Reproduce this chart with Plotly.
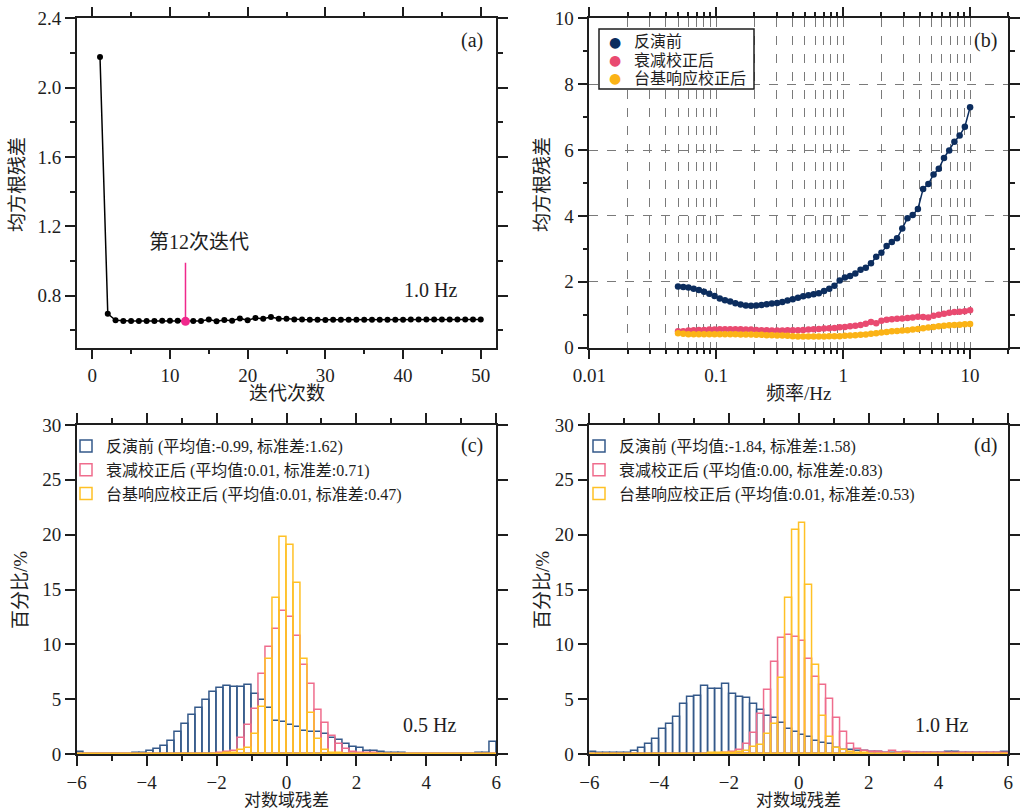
import plotly.graph_objects as go

# ---------------- data ----------------
# (a) RMS residual vs iteration (1.0 Hz)
ITERATIONS = list(range(1, 51))
RMS_ITER = [2.177, 0.696, 0.658, 0.654, 0.654, 0.654, 0.654, 0.654, 0.655, 0.655,
            0.655, 0.652, 0.654, 0.654, 0.662, 0.652, 0.660, 0.656, 0.669, 0.658,
            0.671, 0.667, 0.677, 0.667, 0.667, 0.663, 0.662, 0.661, 0.661, 0.660,
            0.661, 0.661, 0.661, 0.661, 0.661, 0.661, 0.661, 0.661, 0.661, 0.661,
            0.663, 0.663, 0.663, 0.663, 0.663, 0.663, 0.663, 0.663, 0.663, 0.663]
SELECTED_ITER = 12
SELECTED_MARK_TOP = 0.99

# (b) RMS residual vs frequency
FREQ = [0.0500, 0.0550, 0.0604, 0.0664, 0.0730, 0.0802, 0.0882, 0.0970, 0.1066, 0.1172,
        0.1288, 0.1416, 0.1556, 0.1711, 0.1880, 0.2067, 0.2272, 0.2497, 0.2745, 0.3017,
        0.3317, 0.3646, 0.4008, 0.4405, 0.4842, 0.5323, 0.5851, 0.6431, 0.7069, 0.7771,
        0.8542, 0.9389, 1.032, 1.134, 1.247, 1.371, 1.507, 1.656, 1.821, 2.001,
        2.200, 2.418, 2.658, 2.922, 3.212, 3.531, 3.881, 4.266, 4.690, 5.155,
        5.666, 6.229, 6.847, 7.526, 8.273, 9.094, 10.0]
RMS_BEFORE = [1.86, 1.84, 1.83, 1.79, 1.75, 1.70, 1.64, 1.57, 1.49, 1.44,
              1.40, 1.35, 1.31, 1.28, 1.27, 1.28, 1.30, 1.32, 1.34, 1.36,
              1.39, 1.43, 1.47, 1.52, 1.56, 1.59, 1.62, 1.65, 1.72, 1.79,
              1.88, 2.04, 2.13, 2.18, 2.25, 2.37, 2.43, 2.56, 2.76, 2.88,
              3.09, 3.21, 3.32, 3.62, 3.93, 4.03, 4.21, 4.82, 4.97, 5.26,
              5.43, 5.76, 5.99, 6.25, 6.44, 6.71, 7.30]
RMS_ATTEN = [0.50, 0.50, 0.52, 0.53, 0.54, 0.54, 0.55, 0.55, 0.56, 0.56,
             0.56, 0.56, 0.56, 0.55, 0.55, 0.54, 0.53, 0.53, 0.52, 0.52,
             0.52, 0.53, 0.53, 0.53, 0.54, 0.55, 0.56, 0.57, 0.58, 0.59,
             0.60, 0.62, 0.63, 0.65, 0.67, 0.69, 0.73, 0.78, 0.74, 0.82,
             0.85, 0.86, 0.88, 0.89, 0.90, 0.92, 0.94, 0.93, 0.92, 0.97,
             1.00, 1.03, 1.06, 1.08, 1.09, 1.11, 1.14]
RMS_SITE = [0.44, 0.42, 0.41, 0.41, 0.41, 0.41, 0.41, 0.41, 0.41, 0.41,
            0.41, 0.41, 0.40, 0.40, 0.40, 0.39, 0.39, 0.38, 0.38, 0.37,
            0.37, 0.36, 0.35, 0.34, 0.34, 0.34, 0.34, 0.34, 0.34, 0.35,
            0.35, 0.35, 0.36, 0.37, 0.38, 0.39, 0.40, 0.42, 0.44, 0.46,
            0.48, 0.50, 0.51, 0.52, 0.53, 0.55, 0.57, 0.59, 0.61, 0.63,
            0.65, 0.67, 0.68, 0.69, 0.70, 0.71, 0.72]

# (c)/(d) histograms: 60 bins of width 0.2 from -6 to 6 (percent)
BIN_START = -6.0
BIN_WIDTH = 0.2
N_BINS = 60

HIST_C_BEFORE = [0.15, 0, 0, 0, 0, 0, 0.02, 0.03, 0.06, 0.12,
                 0.24, 0.49, 0.76, 1.22, 2.04, 2.74, 3.53, 4.19, 4.89, 5.65,
                 6.05, 6.20, 6.14, 6.14, 6.26, 5.50, 4.95, 4.19, 2.98, 2.92,
                 2.67, 2.49, 2.07, 1.98, 2.02, 1.79, 1.43, 1.25, 0.94, 0.64,
                 0.58, 0.30, 0.27, 0.18, 0.12, 0.09, 0.05, 0.04, 0.03, 0.02,
                 0.02, 0.01, 0.01, 0.01, 0.01, 0.02, 0.02, 0.08, 0.10, 1.06]
HIST_C_ATTEN = [0, 0, 0, 0, 0, 0, 0, 0.03, 0.02, 0.01,
                0.01, 0.01, 0.01, 0.01, 0.01, 0.02, 0.02, 0.02, 0.02, 0.03,
                0.10, 0.15, 0.30, 1.49, 2.67, 4.13, 7.33, 9.79, 11.40, 13.00,
                12.45, 10.76, 8.10, 6.38, 4.00, 2.80, 1.65, 0.90, 0.45, 0.20,
                0.12, 0.08, 0.05, 0.02, 0.02, 0.02, 0.02, 0.02, 0.02, 0.02,
                0.02, 0.03, 0.02, 0.02, 0.02, 0.02, 0.02, 0.02, 0.02, 0.02]
HIST_C_SITE = [0, 0, 0, 0, 0, 0, 0, 0, 0, 0,
               0, 0, 0, 0, 0, 0, 0, 0, 0, 0,
               0.02, 0.05, 0.10, 0.33, 0.58, 1.78, 4.25, 8.65, 14.25, 19.80,
               19.10, 15.60, 8.63, 3.70, 1.40, 0.33, 0.10, 0.05, 0.02, 0,
               0, 0, 0, 0, 0, 0, 0, 0, 0, 0,
               0, 0, 0, 0, 0, 0, 0, 0, 0, 0]

HIST_D_BEFORE = [0.20, 0.05, 0.05, 0.05, 0.10, 0.12, 0.27, 0.52, 0.94, 1.40,
                 2.25, 2.70, 3.34, 4.59, 5.23, 5.29, 6.23, 5.93, 5.90, 6.35,
                 5.44, 5.20, 5.10, 4.56, 4.00, 3.47, 3.31, 2.80, 2.25, 2.04,
                 1.70, 1.58, 1.19, 1.03, 0.88, 0.52, 0.40, 0.33, 0.27, 0.24,
                 0.20, 0.15, 0.12, 0.10, 0.10, 0.10, 0.10, 0.08, 0.08, 0.10,
                 0.10, 0.20, 0.15, 0.12, 0.10, 0.08, 0.10, 0.08, 0.10, 0.15]
HIST_D_ATTEN = [0, 0, 0, 0, 0, 0, 0, 0, 0, 0,
                0.03, 0.03, 0.03, 0.03, 0.03, 0.03, 0.03, 0.03, 0.03, 0.12,
                0.15, 0.36, 0.88, 1.91, 3.68, 5.84, 8.36, 10.58, 10.82, 10.70,
                10.33, 8.63, 7.05, 6.32, 5.05, 3.25, 2.04, 0.88, 0.46, 0.30,
                0.18, 0.15, 0.10, 0.30, 0.10, 0.15, 0.10, 0.10, 0.10, 0.10,
                0.05, 0.05, 0.05, 0.05, 0.05, 0.05, 0.05, 0.05, 0.05, 0.05]
HIST_D_SITE = [0, 0, 0, 0, 0, 0, 0, 0, 0, 0,
               0, 0, 0, 0, 0, 0, 0.03, 0.05, 0.05, 0.08,
               0.10, 0.15, 0.30, 0.60, 0.85, 1.82, 2.77, 6.90, 14.20, 20.40,
               21.03, 15.38, 8.08, 3.50, 1.55, 0.52, 0.36, 0.20, 0.10, 0.05,
               0, 0, 0, 0, 0, 0, 0, 0, 0, 0,
               0, 0, 0, 0, 0, 0, 0, 0, 0, 0]

SERIES_NAMES = ["反演前", "衰减校正后", "台基响应校正后"]
STATS_C = ["(平均值:-0.99, 标准差:1.62)", "(平均值:0.01, 标准差:0.71)", "(平均值:0.01, 标准差:0.47)"]
STATS_D = ["(平均值:-1.84, 标准差:1.58)", "(平均值:0.00, 标准差:0.83)", "(平均值:0.01, 标准差:0.53)"]

# ---------------- style ----------------
FONT = "'Liberation Serif', 'Noto Sans CJK SC', serif"
INK = "#1e1e1e"
NAVY = "#0c2d5e"
PINK = "#e94a70"
GOLD = "#fbb316"
H_BLUE = "#34598a"
H_PINK = "#ef6d8d"
H_GOLD = "#ffc126"
HILITE = "#f0288c"
GRID = "#7a7a7a"

W, H = 1020, 810
COL1 = [76.7 / W, 496.3 / W]
COL2 = [589.3 / W, 1008.3 / W]
ROW1 = [1 - 347.7 / H, 1 - 18.3 / H]
ROW2 = [1 - 754 / H, 1 - 425 / H]


def px(x):
    return x / W


def py(y):
    return 1 - y / H


bin_centers = [BIN_START + BIN_WIDTH * (i + 0.5) for i in range(N_BINS)]

fig = go.Figure()

# (a)
fig.add_trace(go.Scatter(x=ITERATIONS, y=RMS_ITER, mode="lines+markers",
                         line=dict(color="black", width=1.5),
                         marker=dict(color="black", size=6),
                         xaxis="x", yaxis="y", showlegend=False))
sel_y = RMS_ITER[ITERATIONS.index(SELECTED_ITER)]
fig.add_trace(go.Scatter(x=[SELECTED_ITER, SELECTED_ITER], y=[sel_y, SELECTED_MARK_TOP],
                         mode="lines", line=dict(color=HILITE, width=1.5),
                         xaxis="x", yaxis="y", showlegend=False))
fig.add_trace(go.Scatter(x=[SELECTED_ITER], y=[sel_y], mode="markers",
                         marker=dict(color=HILITE, size=9),
                         xaxis="x", yaxis="y", showlegend=False))

# (b)
B_COLORS = [NAVY, PINK, GOLD]
for vals, col, name in zip([RMS_BEFORE, RMS_ATTEN, RMS_SITE], B_COLORS, SERIES_NAMES):
    fig.add_trace(go.Scatter(x=FREQ, y=vals, mode="lines+markers", name=name,
                             line=dict(color=col, width=1.5),
                             marker=dict(color=col, size=6.5),
                             xaxis="x2", yaxis="y2", showlegend=False))

# (c) and (d)
for hists, stats, xa, ya, lg in [((HIST_C_BEFORE, HIST_C_ATTEN, HIST_C_SITE), STATS_C, "x3", "y3", "legend"),
                                 ((HIST_D_BEFORE, HIST_D_ATTEN, HIST_D_SITE), STATS_D, "x4", "y4", "legend2")]:
    for vals, col, name, st in zip(hists, [H_BLUE, H_PINK, H_GOLD], SERIES_NAMES, stats):
        fig.add_trace(go.Bar(x=bin_centers, y=vals, width=BIN_WIDTH,
                             marker=dict(color="rgba(255,255,255,0)", line=dict(color=col, width=1.5)),
                             name=f"{name} {st}", xaxis=xa, yaxis=ya, legend=lg))


def axis(**kw):
    base = dict(showline=True, linecolor=INK, linewidth=1.5, mirror="ticks",
                ticks="outside", ticklen=10, tickwidth=1.5, tickcolor=INK,
                showgrid=False, zeroline=False, automargin=False,
                tickfont=dict(family=FONT, size=19, color=INK))
    base.update(kw)
    return base


minor_short = dict(ticks="outside", ticklen=5, tickwidth=1.5, tickcolor=INK)

log_minor_vals = [0.02, 0.03, 0.04, 0.05, 0.06, 0.07, 0.08, 0.09,
                  0.2, 0.3, 0.4, 0.5, 0.6, 0.7, 0.8, 0.9,
                  2, 3, 4, 5, 6, 7, 8, 9, 20]

fig.update_layout(
    width=W, height=H,
    margin=dict(l=0, r=0, t=0, b=0, autoexpand=False),
    paper_bgcolor="white", plot_bgcolor="white",
    barmode="overlay", bargap=0,
    font=dict(family=FONT, size=16, color=INK),
    xaxis=axis(domain=COL1, anchor="y", range=[-2, 52], tickvals=[0, 10, 20, 30, 40, 50],
               minor=dict(tickvals=[5, 15, 25, 35, 45], **minor_short)),
    yaxis=axis(domain=ROW1, anchor="x", range=[0.5, 2.4],
               tickvals=[0.8, 1.2, 1.6, 2.0, 2.4], tickformat=".1f",
               minor=dict(tickvals=[0.6, 1.0, 1.4, 1.8, 2.2], **minor_short)),
    xaxis2=axis(domain=COL2, anchor="y2", type="log", range=[-2, 1.30103],
                tickvals=[0.01, 0.1, 1, 10], ticktext=["0.01", "0.1", "1", "10"],
                showgrid=True, gridcolor=GRID, griddash="dash", gridwidth=1,
                minor=dict(tickvals=log_minor_vals, showgrid=True, gridcolor=GRID,
                           griddash="dash", gridwidth=1, **minor_short)),
    yaxis2=axis(domain=ROW1, anchor="x2", range=[0, 10], tickvals=[0, 2, 4, 6, 8, 10],
                showgrid=True, gridcolor=GRID, griddash="dash", gridwidth=1,
                minor=dict(tickvals=[1, 3, 5, 7, 9], **minor_short)),
    xaxis3=axis(domain=COL1, anchor="y3", range=[-6, 6], tickvals=[-6, -4, -2, 0, 2, 4, 6],
                minor=dict(tickvals=[-5, -3, -1, 1, 3, 5], **minor_short)),
    yaxis3=axis(domain=ROW2, anchor="x3", range=[0, 30], tickvals=[0, 5, 10, 15, 20, 25, 30]),
    xaxis4=axis(domain=COL2, anchor="y4", range=[-6, 6], tickvals=[-6, -4, -2, 0, 2, 4, 6],
                minor=dict(tickvals=[-5, -3, -1, 1, 3, 5], **minor_short)),
    yaxis4=axis(domain=ROW2, anchor="x4", range=[0, 30], tickvals=[0, 5, 10, 15, 20, 25, 30]),
    legend=dict(x=px(66), y=py(429), xanchor="left", yanchor="top",
                bgcolor="rgba(255,255,255,0)", borderwidth=0,
                font=dict(family=FONT, size=16, color=INK)),
    legend2=dict(x=px(579), y=py(429), xanchor="left", yanchor="top",
                 bgcolor="rgba(255,255,255,0)", borderwidth=0,
                 font=dict(family=FONT, size=16, color=INK)),
)

# boxed key for panel (b)
KEY_BOX = dict(x0=599, x1=754, y0=29, y1=89)
KEY_ROWS_Y = [41.7, 60, 78]
shapes = [dict(type="rect", xref="paper", yref="paper",
               x0=px(KEY_BOX["x0"]), x1=px(KEY_BOX["x1"]),
               y0=py(KEY_BOX["y1"]), y1=py(KEY_BOX["y0"]),
               line=dict(color=INK, width=1.5), fillcolor="white", layer="above")]

ann_font = dict(family=FONT, size=20, color=INK)
title_font = dict(family=FONT, size=19, color=INK)
bottom_title_font = dict(family=FONT, size=17, color=INK)
annotations = [
    # panel labels
    dict(text="(a)", x=px(471.5), y=py(40), font=ann_font),
    dict(text="(b)", x=px(985), y=py(40), font=ann_font),
    dict(text="(c)", x=px(472), y=py(445), font=ann_font),
    dict(text="(d)", x=px(985), y=py(445), font=ann_font),
    # frequency labels
    dict(text="1.0 Hz", x=px(430), y=py(290), font=ann_font),
    dict(text="0.5 Hz", x=px(429.5), y=py(725), font=ann_font),
    dict(text="1.0 Hz", x=px(941.5), y=py(725), font=ann_font),
    # axis titles
    dict(text="迭代次数", x=px(286.5), y=py(393), font=title_font),
    dict(text="频率/Hz", x=px(798.8), y=py(393), font=title_font),
    dict(text="对数域残差", x=px(286.5), y=py(800), font=bottom_title_font),
    dict(text="对数域残差", x=px(798.8), y=py(800), font=bottom_title_font),
    dict(text="均方根残差", x=px(17), y=py(185), textangle=-90, font=title_font),
    dict(text="均方根残差", x=px(542), y=py(185), textangle=-90, font=title_font),
    dict(text="百分比/%", x=px(20), y=py(590), textangle=-90, font=title_font),
    dict(text="百分比/%", x=px(542), y=py(590), textangle=-90, font=title_font),
]
for col, name, ry in zip(B_COLORS, SERIES_NAMES, KEY_ROWS_Y):
    annotations.append(dict(text="●", x=px(615), y=py(ry),
                            font=dict(family="DejaVu Sans", size=14, color=col)))
    annotations.append(dict(text=name, x=px(632), y=py(ry), xanchor="left",
                            font=dict(family=FONT, size=16, color=INK)))
for a in annotations:
    a.setdefault("xanchor", "center")
    a.update(xref="paper", yref="paper", showarrow=False, yanchor="middle")
annotations.append(dict(text="第12次迭代", x=7.03, y=1.109, xref="x", yref="y",
                        showarrow=False, font=ann_font, xanchor="left", yanchor="middle"))
fig.update_layout(annotations=annotations, shapes=shapes)

fig.write_html("out.html", config={"displayModeBar": False},
               post_script="document.body.style.margin='0px';")
